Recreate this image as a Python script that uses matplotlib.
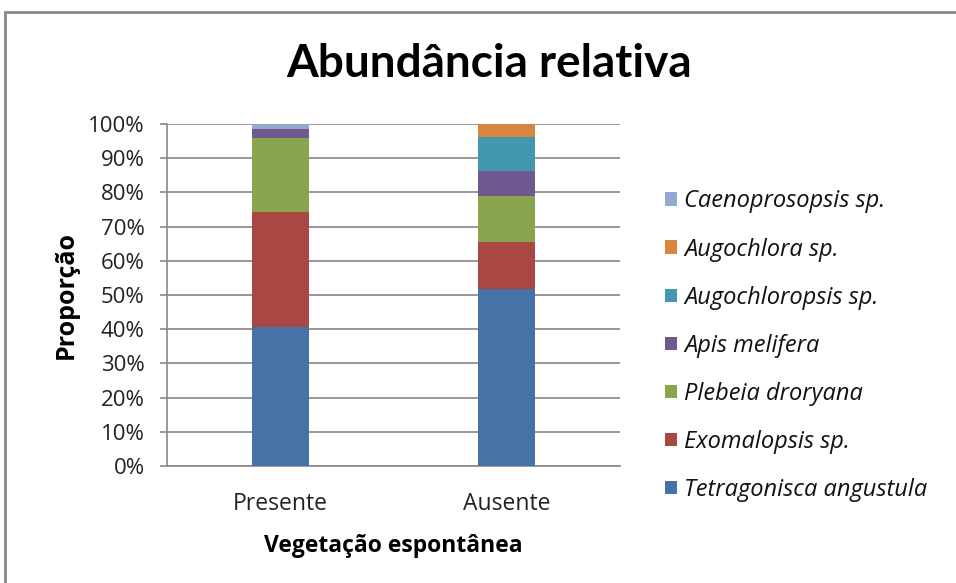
import matplotlib
matplotlib.use("Agg")
import matplotlib.pyplot as plt
from matplotlib.patches import Rectangle, Patch
from matplotlib.ticker import PercentFormatter
import numpy as np

categories = ["Presente", "Ausente"]
species = ["Tetragonisca angustula", "Exomalopsis sp.", "Plebeia droryana",
           "Apis melifera", "Augochloropsis sp.", "Augochlora sp.", "Caenoprosopsis sp."]
tetragonisca = [40.7, 51.7]
exomalopsis = [33.5, 13.8]
plebeia = [21.7, 13.5]
apis = [2.7, 7.2]
augochloropsis = [0.0, 10.1]
augochlora = [0.0, 3.7]
caenoprosopsis = [1.4, 0.0]
colors = ["#4572A7", "#AA4643", "#89A54E", "#71588F", "#4198AF", "#DB843D", "#93A9CF"]

series = [tetragonisca, exomalopsis, plebeia, apis, augochloropsis, augochlora, caenoprosopsis]

plt.rcParams['font.family'] = ['Open Sans', 'DejaVu Sans']

fig = plt.figure(figsize=(9.56, 5.83), dpi=100)
ax = fig.add_axes([167/956, 117/583, 453/956, 342/583])

x = np.arange(len(categories))
bottom = np.zeros(len(categories))
for vals, col, name in zip(series, colors, species):
    v = np.array(vals)
    ax.bar(x, v, bottom=bottom, width=0.25, color=col, label=name, zorder=3)
    bottom += v

ax.set_xlim(-0.5, 1.5)
ax.set_ylim(0, 100)
ax.set_yticks(np.arange(0, 101, 10))
ax.yaxis.set_major_formatter(PercentFormatter(decimals=0))
ax.set_xticks(x)
ax.set_xticklabels(categories)
ax.grid(axis='y', color='#888888', linewidth=1.2, zorder=0)
for s in ['top', 'right']:
    ax.spines[s].set_visible(False)
for s in ['left', 'bottom']:
    ax.spines[s].set_color('#888888')
    ax.spines[s].set_linewidth(1.2)
ax.tick_params(axis='y', length=5, color='#888888', width=1.2, labelsize=16, pad=11, labelcolor='#222222')
ax.tick_params(axis='x', length=0, labelsize=16.5, pad=19, labelcolor='#222222')

ax.set_ylabel("Proporção", fontsize=18, fontweight='bold', labelpad=7)
ax.set_xlabel("Vegetação espontânea", fontsize=16.5, fontweight='bold', labelpad=13)

fig.text(489/956, 1 - 64/583, "Abundância relativa", fontsize=33, fontweight='bold',
         ha='center', va='center', family=['Lato', 'DejaVu Sans'])

handles = [Patch(facecolor=c, label=n) for c, n in zip(colors, species)][::-1]
leg = fig.legend(handles=handles, loc='upper left', bbox_to_anchor=(656/956, 1 - 180/583),
                 frameon=False, prop={'style': 'italic', 'size': 17},
                 handlelength=0.5, handleheight=0.5, handletextpad=0.3,
                 labelspacing=1.02, borderaxespad=0)
for t in leg.get_texts():
    t.set_color('#111111')

fig.patches.append(Rectangle((5/956, -0.1), 1.2, (1 - 12/583) + 0.1, transform=fig.transFigure,
                             fill=False, edgecolor='#888888', linewidth=2))

fig.savefig("out.png", dpi=100)
